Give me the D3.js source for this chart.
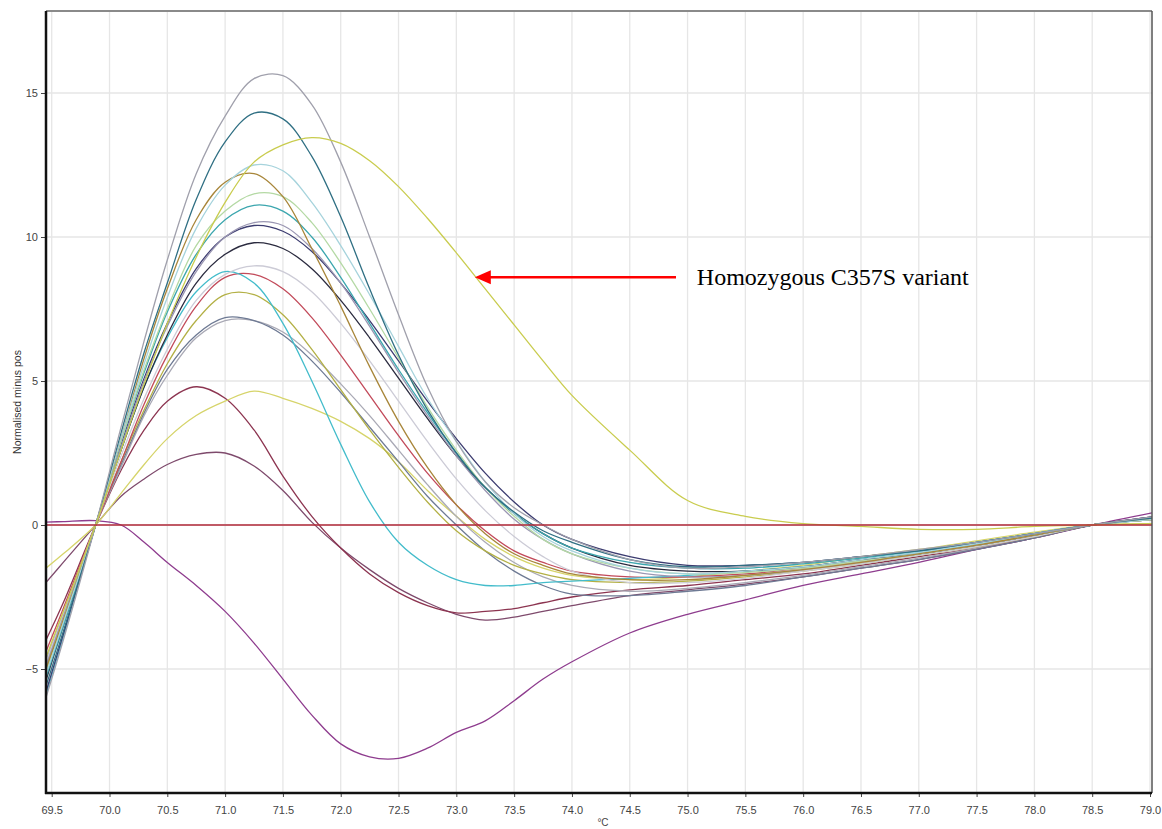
<!DOCTYPE html>
<html>
<head>
<meta charset="utf-8">
<script src="https://cdn.jsdelivr.net/npm/d3@7"></script>
<style>
  html, body { margin: 0; padding: 0; background: #ffffff; }
  svg { display: block; }
</style>
</head>
<body>
<svg id="chart" width="1162" height="829"></svg>
<script>
// ---------------- data ----------------
const temperatures = [69.45, 69.6, 69.88, 70.1, 70.3, 70.5, 70.75, 71.0, 71.25, 71.5, 71.75, 72.0, 72.25, 72.5, 72.75, 73.0, 73.25, 73.5, 73.75, 74.0, 74.5, 75.0, 75.5, 76.0, 76.5, 77.0, 77.5, 78.0, 78.5, 79.05];

const xTickLabels = [69.5, 70.0, 70.5, 71.0, 71.5, 72.0, 72.5, 73.0, 73.5, 74.0, 74.5, 75.0, 75.5, 76.0, 76.5, 77.0, 77.5, 78.0, 78.5, 79.0];
const yTickLabels = [-5, 0, 5, 10, 15];

const sampleA = [-6.0, -4.0, 0, 3.4, 6.4, 9.2, 12.2, 14.2, 15.5, 15.6, 14.6, 12.6, 10.0, 7.3, 4.8, 2.9, 1.5, 0.6, 0, -0.5, -1.2, -1.5, -1.45, -1.3, -1.1, -0.85, -0.6, -0.3, 0, 0.3];
const sampleB = [-5.6, -3.7, 0, 3.2, 6.0, 8.4, 11.3, 13.3, 14.3, 14.1, 12.8, 10.7, 8.2, 5.9, 4.0, 2.5, 1.3, 0.45, -0.2, -0.6, -1.2, -1.45, -1.4, -1.3, -1.1, -0.9, -0.6, -0.3, 0, 0.25];
const sampleC = [-4.6, -3.0, 0, 2.6, 4.9, 7.0, 9.3, 11.2, 12.6, 13.2, 13.45, 13.25, 12.65, 11.75, 10.65, 9.45, 8.2, 6.95, 5.7, 4.5, 2.6, 0.85, 0.3, 0.05, -0.05, -0.15, -0.15, -0.05, 0, 0.05];
const sampleD = [-5.2, -3.4, 0, 3.0, 5.6, 7.9, 10.3, 11.8, 12.5, 12.3, 11.2, 9.7, 8.0, 6.2, 4.4, 2.9, 1.5, 0.4, -0.4, -0.9, -1.5, -1.7, -1.6, -1.45, -1.2, -0.95, -0.65, -0.3, 0, 0.2];
const sampleE = [-5.0, -3.3, 0, 3.0, 5.8, 8.2, 10.6, 11.9, 12.2, 11.4, 9.6, 7.6, 5.5, 3.6, 2.0, 0.7, -0.3, -1.0, -1.4, -1.7, -1.9, -1.9, -1.75, -1.55, -1.3, -1.0, -0.7, -0.35, 0, 0.2];
const sampleF = [-5.1, -3.3, 0, 2.9, 5.4, 7.5, 9.7, 10.9, 11.5, 11.4, 10.5, 9.1, 7.5, 5.8, 4.1, 2.6, 1.3, 0.3, -0.5, -1.0, -1.5, -1.7, -1.65, -1.5, -1.25, -1.0, -0.7, -0.35, 0, 0.2];
const sampleG = [-5.3, -3.5, 0, 2.9, 5.3, 7.4, 9.4, 10.6, 11.1, 10.9, 10.0, 8.6, 7.0, 5.4, 3.9, 2.5, 1.3, 0.4, -0.3, -0.8, -1.3, -1.5, -1.5, -1.35, -1.15, -0.9, -0.6, -0.3, 0, 0.25];
const sampleH = [-4.9, -3.2, 0, 2.7, 5.0, 6.9, 8.8, 10.0, 10.5, 10.4, 9.6, 8.4, 6.9, 5.3, 3.8, 2.4, 1.2, 0.2, -0.5, -1.0, -1.6, -1.8, -1.75, -1.55, -1.3, -1.0, -0.7, -0.35, 0, 0.25];
const sampleI = [-5.8, -3.8, 0, 2.8, 5.1, 7.0, 8.9, 10.0, 10.4, 10.2, 9.5, 8.4, 7.1, 5.7, 4.3, 3.0, 1.8, 0.8, 0.0, -0.5, -1.1, -1.4, -1.4, -1.3, -1.1, -0.9, -0.6, -0.3, 0, 0.3];
const sampleJ = [-5.4, -3.5, 0, 2.6, 4.8, 6.6, 8.4, 9.4, 9.8, 9.6, 8.9, 7.8, 6.5, 5.1, 3.7, 2.4, 1.3, 0.4, -0.3, -0.8, -1.4, -1.6, -1.6, -1.45, -1.2, -1.0, -0.7, -0.35, 0, 0.3];
const sampleK = [-4.8, -3.1, 0, 2.4, 4.4, 6.1, 7.8, 8.7, 9.0, 8.8, 8.1, 7.0, 5.7, 4.3, 2.9, 1.6, 0.5, -0.4, -1.1, -1.6, -2.0, -2.0, -1.85, -1.6, -1.35, -1.05, -0.75, -0.4, 0, 0.2];
const sampleL = [-5.9, -3.9, 0, 2.6, 4.8, 6.5, 8.1, 8.8, 8.4, 7.0, 5.0, 2.8, 0.8, -0.6, -1.4, -1.9, -2.1, -2.1, -2.0, -1.95, -1.85, -1.75, -1.6, -1.45, -1.2, -0.95, -0.65, -0.3, 0, 0.2];
const sampleM = [-4.4, -2.9, 0, 2.2, 4.2, 5.9, 7.6, 8.6, 8.7, 8.2, 7.2, 5.9, 4.5, 3.1, 1.8, 0.7, -0.2, -0.9, -1.3, -1.6, -1.8, -1.8, -1.7, -1.5, -1.25, -1.0, -0.7, -0.35, 0, 0.2];
const sampleN = [-4.9, -3.2, 0, 2.2, 4.0, 5.6, 7.1, 8.0, 8.0, 7.3, 6.1, 4.7, 3.3, 2.0, 0.8, -0.2, -0.9, -1.4, -1.7, -1.9, -2.0, -1.95, -1.8, -1.6, -1.35, -1.05, -0.75, -0.4, 0, 0.2];
const sampleO = [-5.0, -3.3, 0, 2.1, 3.9, 5.4, 6.6, 7.2, 7.1, 6.6, 5.7, 4.6, 3.4, 2.2, 1.0, 0.0, -0.9, -1.6, -2.1, -2.4, -2.45, -2.3, -2.1, -1.8, -1.5, -1.2, -0.85, -0.45, 0, 0.2];
const sampleP = [-4.7, -3.1, 0, 2.0, 3.8, 5.2, 6.5, 7.1, 7.1, 6.7, 5.9, 4.9, 3.8, 2.6, 1.4, 0.3, -0.6, -1.3, -1.8, -2.1, -2.3, -2.2, -2.0, -1.75, -1.45, -1.15, -0.8, -0.4, 0, 0.2];
const sampleQ = [-4.0, -2.7, 0, 1.9, 3.3, 4.3, 4.8, 4.4, 3.3, 1.7, 0.3, -0.8, -1.7, -2.35, -2.8, -3.05, -3.0, -2.9, -2.7, -2.5, -2.25, -2.1, -1.9, -1.7, -1.4, -1.1, -0.8, -0.4, 0, 0.2];
const sampleR = [-1.5, -1.0, 0, 1.1, 2.1, 3.0, 3.8, 4.3, 4.65, 4.4, 4.05, 3.6, 3.0, 2.2, 1.2, 0.3, -0.5, -1.1, -1.5, -1.75, -1.9, -1.8, -1.6, -1.4, -1.1, -0.85, -0.55, -0.25, 0, 0.05];
const sampleS = [-2.0, -1.3, 0, 1.0, 1.6, 2.1, 2.45, 2.5, 2.05, 1.2, 0.1, -0.8, -1.55, -2.2, -2.7, -3.1, -3.3, -3.2, -3.0, -2.8, -2.45, -2.25, -2.05, -1.8, -1.5, -1.2, -0.85, -0.45, 0, 0.2];
const sampleT = [0.1, 0.12, 0.15, 0.0, -0.6, -1.3, -2.1, -3.0, -4.1, -5.35, -6.6, -7.6, -8.05, -8.1, -7.75, -7.2, -6.8, -6.1, -5.35, -4.75, -3.75, -3.1, -2.6, -2.1, -1.7, -1.3, -0.85, -0.45, 0.0, 0.45];
const baselineZero = [0, 0, 0, 0, 0, 0, 0, 0, 0, 0, 0, 0, 0, 0, 0, 0, 0, 0, 0, 0, 0, 0, 0, 0, 0, 0, 0, 0, 0, 0];

const seriesNames = ["T", "S", "Q", "R", "P", "O", "N", "M", "L", "K", "J", "I", "H", "G", "F", "E", "D", "B", "A", "C"];
const seriesValues = [sampleT, sampleS, sampleQ, sampleR, sampleP, sampleO, sampleN, sampleM, sampleL, sampleK, sampleJ, sampleI, sampleH, sampleG, sampleF, sampleE, sampleD, sampleB, sampleA, sampleC];
const seriesColors = ["#8e3c8e", "#7e4a6c", "#8c3450", "#d6d46a", "#a9a9b5", "#6e7a94", "#b3b045", "#c24a5a", "#43bccb", "#cccbd6", "#2b2b3f", "#3c3c70", "#9a96b2", "#3ba6ae", "#b4d9a4", "#a8863a", "#a6d3dc", "#2f6f83", "#a0a0ac", "#c9cc4e"];

const annotationText = "Homozygous C357S variant";
const annotationTipTemp = 73.16, annotationTipValue = 8.6, annotationTailTemp = 74.9, annotationTextTemp = 75.08;

// ---------------- layout ----------------
const svg = d3.select("#chart");
const plotLeft = 46, plotRight = 1152, plotTop = 11, plotBottom = 793;

const x = d3.scaleLinear().domain([69.5, 79.0]).range([51.7, 1150]);
const y = d3.scaleLinear().domain([0, 5]).range([525, 381]);

svg.append("rect").attr("width", 1162).attr("height", 829).attr("fill", "#ffffff");

svg.append("defs").append("clipPath").attr("id", "plotclip")
  .append("rect").attr("x", plotLeft).attr("y", plotTop)
  .attr("width", plotRight - plotLeft).attr("height", plotBottom - plotTop);

// grid
const grid = svg.append("g");
grid.selectAll("line.v").data(xTickLabels).enter().append("line")
  .attr("x1", d => x(d)).attr("x2", d => x(d))
  .attr("y1", plotTop).attr("y2", plotBottom)
  .attr("stroke", "#e6e6e6").attr("stroke-width", 1.3);
grid.selectAll("line.h").data(yTickLabels).enter().append("line")
  .attr("x1", plotLeft).attr("x2", plotRight)
  .attr("y1", d => y(d)).attr("y2", d => y(d))
  .attr("stroke", "#e6e6e6").attr("stroke-width", 1.3);

// curves
const line = d3.line()
  .x((d, i) => x(temperatures[i]))
  .y(d => y(d))
  .curve(d3.curveCatmullRom.alpha(0.5));

const curves = svg.append("g").attr("clip-path", "url(#plotclip)");
curves.selectAll("path.curve").data(seriesValues).enter().append("path")
  .attr("class", "curve")
  .attr("d", d => line(d))
  .attr("fill", "none")
  .attr("stroke", (d, i) => seriesColors[i])
  .attr("stroke-width", 1.3)
  .attr("stroke-linejoin", "round");

curves.append("path")
  .attr("d", line(baselineZero))
  .attr("fill", "none")
  .attr("stroke", "#b22a3a")
  .attr("stroke-width", 1.3);

// frame
svg.append("line").attr("x1", plotLeft).attr("x2", plotRight).attr("y1", plotTop).attr("y2", plotTop)
  .attr("stroke", "#8a8a8a").attr("stroke-width", 2);
svg.append("line").attr("x1", plotRight).attr("x2", plotRight).attr("y1", plotTop).attr("y2", plotBottom)
  .attr("stroke", "#555").attr("stroke-width", 1.5);

// axes
const xAxis = d3.axisBottom(x).tickValues(xTickLabels).tickFormat(d3.format(".1f")).tickSize(4).tickPadding(9);
const gx = svg.append("g").attr("transform", `translate(0,${plotBottom})`).call(xAxis);
gx.select(".domain").remove();
gx.selectAll(".tick line").attr("stroke", "#444");
gx.selectAll(".tick text").attr("fill", "#444").style("font-family", "Arial, 'Liberation Sans', sans-serif").style("font-size", "11px");

const yAxis = d3.axisLeft(y).tickValues(yTickLabels).tickFormat(d3.format("d")).tickSize(5).tickPadding(3);
const gy = svg.append("g").attr("transform", `translate(${plotLeft},0)`).call(yAxis);
gy.select(".domain").remove();
gy.selectAll(".tick line").attr("stroke", "#444");
gy.selectAll(".tick text").attr("fill", "#444").style("font-family", "Arial, 'Liberation Sans', sans-serif").style("font-size", "11px");

svg.append("line").attr("x1", plotLeft).attr("x2", plotLeft).attr("y1", plotTop).attr("y2", plotBottom + 1)
  .attr("stroke", "#111").attr("stroke-width", 2.5);
svg.append("line").attr("x1", plotLeft - 1).attr("x2", plotRight).attr("y1", plotBottom).attr("y2", plotBottom)
  .attr("stroke", "#111").attr("stroke-width", 2.5);

// axis titles
svg.append("text")
  .attr("transform", `translate(21,${(plotTop + plotBottom) / 2}) rotate(-90)`)
  .attr("text-anchor", "middle")
  .attr("fill", "#333")
  .style("font-family", "Arial, 'Liberation Sans', sans-serif")
  .style("font-size", "10.5px")
  .text("Normalised minus pos");

svg.append("text")
  .attr("x", 603).attr("y", 826)
  .attr("text-anchor", "middle")
  .attr("fill", "#444")
  .style("font-family", "Arial, 'Liberation Sans', sans-serif")
  .style("font-size", "10px")
  .text("°C");

// annotation
const tipX = x(annotationTipTemp), tipY = y(annotationTipValue);
svg.append("line")
  .attr("x1", x(annotationTailTemp)).attr("x2", tipX + 12)
  .attr("y1", tipY).attr("y2", tipY)
  .attr("stroke", "#ff0000").attr("stroke-width", 2.5);
svg.append("path")
  .attr("d", `M${tipX},${tipY} L${tipX + 16},${tipY - 7} L${tipX + 16},${tipY + 7} Z`)
  .attr("fill", "#ff0000");
svg.append("text")
  .attr("x", x(annotationTextTemp)).attr("y", tipY + 8)
  .attr("fill", "#000")
  .style("font-family", "'Times New Roman', 'Liberation Serif', serif")
  .style("font-size", "24px")
  .text(annotationText);
</script>
</body>
</html>
